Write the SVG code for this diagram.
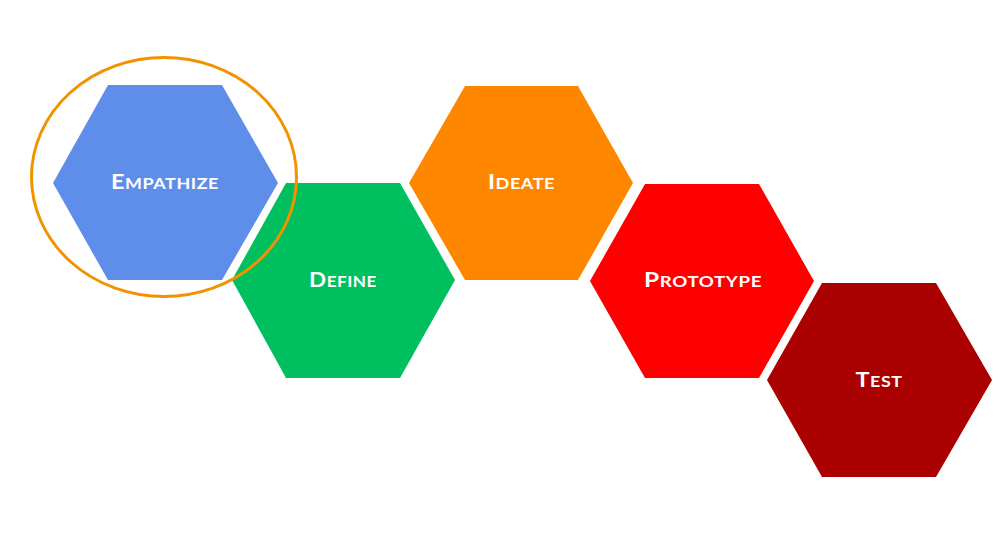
<svg xmlns="http://www.w3.org/2000/svg" width="1007" height="533" viewBox="0 0 1007 533">
<style>
.lbl{font-family:Lato,"Open Sans","Liberation Sans",sans-serif;font-weight:700;fill:#fff;text-anchor:middle;letter-spacing:0.5px}
.big{font-size:21px}
.sm{font-size:16px}
</style>
<rect width="1007" height="533" fill="#fff"/>
<g id="empathize">
<polygon points="53,183 108,85 222,85 278,183 222,280 108,280" fill="#5E8EEA"/>
<text class="lbl" x="165" y="189" textLength="108" lengthAdjust="spacingAndGlyphs"><tspan class="big">E</tspan><tspan class="sm">MPATHIZE</tspan></text>
</g>
<g id="define">
<polygon points="232,280 286,183 400,183 455,280 400,378 286,378" fill="#00BF5F"/>
<text class="lbl" x="343" y="287" textLength="68" lengthAdjust="spacingAndGlyphs"><tspan class="big">D</tspan><tspan class="sm">EFINE</tspan></text>
</g>
<g id="ideate">
<polygon points="409,183 465,86 578,86 633,183 578,280 465,280" fill="#FF8700"/>
<text class="lbl" x="521.5" y="189" textLength="67" lengthAdjust="spacingAndGlyphs"><tspan class="big">I</tspan><tspan class="sm">DEATE</tspan></text>
</g>
<g id="prototype">
<polygon points="590,281 645,184 759,184 814,281 759,378 645,378" fill="#FF0000"/>
<text class="lbl" x="703" y="287" textLength="118" lengthAdjust="spacingAndGlyphs"><tspan class="big">P</tspan><tspan class="sm">ROTOTYPE</tspan></text>
</g>
<g id="test">
<polygon points="767,380 822,283 936,283 992,380 936,477 822,477" fill="#AA0000"/>
<text class="lbl" x="879" y="387" textLength="47" lengthAdjust="spacingAndGlyphs"><tspan class="big">T</tspan><tspan class="sm">EST</tspan></text>
</g>
<g id="connectors">
<ellipse cx="164" cy="177" rx="132.5" ry="119.5" fill="none" stroke="#F39200" stroke-width="3"/>
</g>
</svg>
